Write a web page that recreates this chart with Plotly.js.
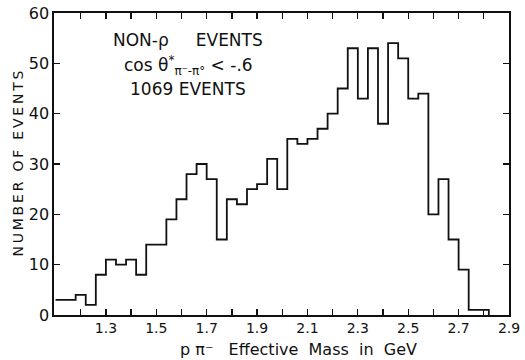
<!DOCTYPE html>
<html>
<head>
<meta charset="utf-8">
<script src="https://cdn.plot.ly/plotly-3.0.1.min.js"></script>
<style>html,body{margin:0;padding:0;background:#fff;}#chart{width:525px;height:360px;}</style>
</head>
<body>
<div id="chart"></div>
<script>
// Bin edges (GeV) — left edge of each bin, followed by the final right edge
const binEdges = [1.10,1.14,1.18,1.22,1.26,1.30,1.34,1.38,1.42,1.46,1.50,1.54,1.58,1.62,1.66,1.70,1.74,1.78,1.82,1.86,1.90,1.94,1.98,2.02,2.06,2.10,2.14,2.18,2.22,2.26,2.30,2.34,2.38,2.42,2.46,2.50,2.54,2.58,2.62,2.66,2.70,2.74,2.78,2.82];
// Events per bin
const counts = [3,3,4,2,8,11,10,11,8,14,14,19,23,28,30,27,15,23,22,25,26,31,25,35,34,35,37,40,45,53,43,53,38,54,51,43,44,20,27,15,9,1,1];
// Axis ticks
const xTickVals = [1.2,1.3,1.4,1.5,1.6,1.7,1.8,1.9,2.0,2.1,2.2,2.3,2.4,2.5,2.6,2.7,2.8,2.9];
const xTickText = ["","1.3","","1.5","","1.7","","1.9","","2.1","","2.3","","2.5","","2.7","","2.9"];
const yTickVals = [0,10,20,30,40,50,60];
const yTickText = ["0","10","20","30","40","50","60"];
// Texts
const xTitle = "p π\u207B&nbsp;&nbsp;&nbsp;Effective&nbsp;&nbsp;Mass&nbsp;&nbsp;in&nbsp;&nbsp;GeV";
const yTitle = "N\u2009U\u2009M\u2009B\u2009E\u2009R\u2009 \u2009O\u2009F\u2009 \u2009E\u2009V\u2009E\u2009N\u2009T\u2009S";
const infoLines = ["NON-ρ&nbsp;&nbsp;&nbsp;&nbsp;&nbsp;EVENTS", "cos θ<sup>*</sup><sub>π\u207B-π\u00B0</sub> &lt; -.6", "1069 EVENTS"];

const yStep = counts.concat([0]);

const font = "DejaVu Sans, sans-serif";
const trace = {
  x: binEdges, y: yStep, type: "scatter", mode: "lines",
  line: {shape: "hv", color: "#111", width: 1.8},
  hoverinfo: "skip"
};
const infoY = [0.91, 0.825, 0.748];
const layout = {
  width: 525, height: 360,
  margin: {l: 54, r: 16, t: 13, b: 45},
  paper_bgcolor: "#fff", plot_bgcolor: "#fff",
  showlegend: false,
  font: {family: font, color: "#111", size: 14},
  xaxis: {
    range: [1.094, 2.9], tickvals: xTickVals, ticktext: xTickText,
    ticks: "inside", ticklen: 6, tickwidth: 1.3, tickcolor: "#111",
    showline: true, linecolor: "#111", linewidth: 1.6, mirror: "ticks",
    showgrid: false, zeroline: false,
    tickfont: {family: font, size: 14}
  },
  yaxis: {
    range: [0, 60], tickvals: yTickVals, ticktext: yTickText,
    ticks: "inside", ticklen: 6, tickwidth: 1.3, tickcolor: "#111",
    showline: true, linecolor: "#111", linewidth: 1.6, mirror: "ticks",
    showgrid: false, zeroline: false,
    tickfont: {family: font, size: 16}
  },
  annotations: [
    {xref: "paper", yref: "paper", x: 0.538, y: -0.115, xanchor: "center", yanchor: "middle",
     text: xTitle, showarrow: false, font: {family: font, size: 16}},
    {xref: "paper", yref: "paper", x: -0.08, y: 0.5, xanchor: "center", yanchor: "middle", textangle: -90,
     text: yTitle, showarrow: false, font: {family: font, size: 14}}
  ].concat(infoLines.map((t, i) => ({
    xref: "paper", yref: "paper", x: 0.295, y: infoY[i], xanchor: "center", yanchor: "middle",
    text: t, showarrow: false, font: {family: font, size: 17}
  })))
};
Plotly.newPlot("chart", [trace], layout, {staticPlot: true, displayModeBar: false});
</script>
</body>
</html>
